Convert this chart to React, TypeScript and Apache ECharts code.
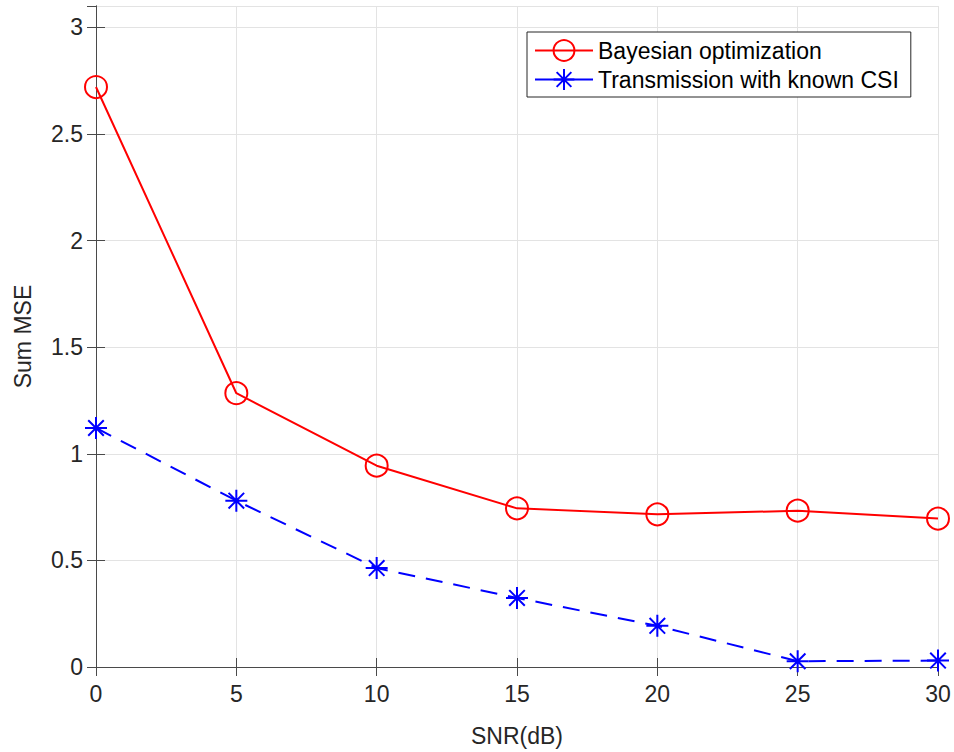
import React, { useEffect, useRef } from "react";
import * as echarts from "echarts";

const snr = [0, 5, 10, 15, 20, 25, 30];
const bayesian = [2.72, 1.284, 0.944, 0.744, 0.716, 0.733, 0.696];
const knownCsi = [1.121, 0.78, 0.464, 0.324, 0.193, 0.027, 0.03];
const seriesNames = ["Bayesian optimization", "Transmission with known CSI"];
const xName = "SNR(dB)";
const yName = "Sum MSE";

const FONT = "'Liberation Sans', Arial, Helvetica, sans-serif";
const TXT = "#262626";
const AX = "#4a4a4a";

const asterisk =
  "path://M0,-10L0,10M-10,0L10,0M-7.07,-7.07L7.07,7.07M-7.07,7.07L7.07,-7.07";

export default function App() {
  const ref = useRef<HTMLDivElement>(null);
  useEffect(() => {
    if (!ref.current) return;
    document.body.style.margin = "0";
    document.body.style.overflow = "hidden";
    const chart = echarts.init(ref.current, undefined, { renderer: "svg" });
    const pairs = (ys: number[]) => snr.map((x, i) => [x, ys[i]]);
    const boxAxis = {
      axisLine: { show: true, lineStyle: { color: AX, width: 1 } },
      axisTick: { show: true, inside: true, length: 9, lineStyle: { color: AX } },
      axisLabel: { show: false },
      splitLine: { show: false },
    };
    chart.setOption({
      animation: false,
      backgroundColor: "#ffffff",
      textStyle: { fontFamily: FONT },
      grid: { left: 96, right: 16, top: 6, bottom: 80, containLabel: false },
      legend: {
        left: 527,
        top: 32,
        orient: "vertical",
        data: [
          { name: seriesNames[0] },
          { name: seriesNames[1], lineStyle: { type: "solid" } },
        ],
        itemWidth: 58,
        itemHeight: 26,
        itemGap: 6,
        itemTextGap: 7,
        padding: [7, 12, 6, 7],
        borderColor: "#262626",
        borderWidth: 1,
        backgroundColor: "#ffffff",
        textStyle: { fontFamily: FONT, fontSize: 23, color: "#000" },
      },
      xAxis: [
        {
          type: "value",
          min: 0,
          max: 30,
          interval: 5,
          name: xName,
          nameLocation: "middle",
          nameGap: 57,
          nameTextStyle: { fontFamily: FONT, fontSize: 23, color: TXT },
          axisLine: { show: true, lineStyle: { color: AX, width: 1 } },
          axisTick: { show: true, inside: true, length: 9, lineStyle: { color: AX } },
          axisLabel: { fontFamily: FONT, fontSize: 23, color: TXT, margin: 15 },
          splitLine: { show: true, lineStyle: { color: "#e3e3e3", width: 1 } },
        },
        { type: "value", position: "top", min: 0, max: 30, interval: 5, ...boxAxis },
      ],
      yAxis: [
        {
          type: "value",
          min: 0,
          max: 3.1,
          interval: 0.5,
          name: yName,
          nameLocation: "middle",
          nameGap: 62,
          nameTextStyle: { fontFamily: FONT, fontSize: 23, color: TXT },
          axisLine: { show: true, lineStyle: { color: AX, width: 1 } },
          axisTick: { show: true, inside: true, length: 9, lineStyle: { color: AX } },
          axisLabel: { fontFamily: FONT, fontSize: 23, color: TXT, margin: 13, showMaxLabel: false },
          splitLine: { show: true, lineStyle: { color: "#e3e3e3", width: 1 } },
        },
        { type: "value", position: "right", min: 0, max: 3.1, interval: 0.5, ...boxAxis },
      ],
      series: [
        {
          name: seriesNames[0],
          type: "line",
          data: pairs(bayesian),
          color: "#ff0000",
          lineStyle: { color: "#ff0000", width: 2 },
          symbol: "circle",
          symbolSize: 22,
          showAllSymbol: true,
          itemStyle: { color: "rgba(255,255,255,0)", borderColor: "#ff0000", borderWidth: 2 },
          z: 3,
        },
        {
          name: seriesNames[1],
          type: "line",
          data: pairs(knownCsi),
          color: "#0000ff",
          lineStyle: { color: "#0000ff", width: 2, type: [17, 11] },
          symbol: asterisk,
          symbolSize: 22,
          showAllSymbol: true,
          itemStyle: { color: "#0000ff", borderColor: "#0000ff", borderWidth: 2 },
          z: 3,
        },
      ],
    });
    return () => chart.dispose();
  }, []);
  return (
    <div
      ref={ref}
      style={{ position: "fixed", left: 0, top: 0, width: 954, height: 752 }}
    />
  );
}
